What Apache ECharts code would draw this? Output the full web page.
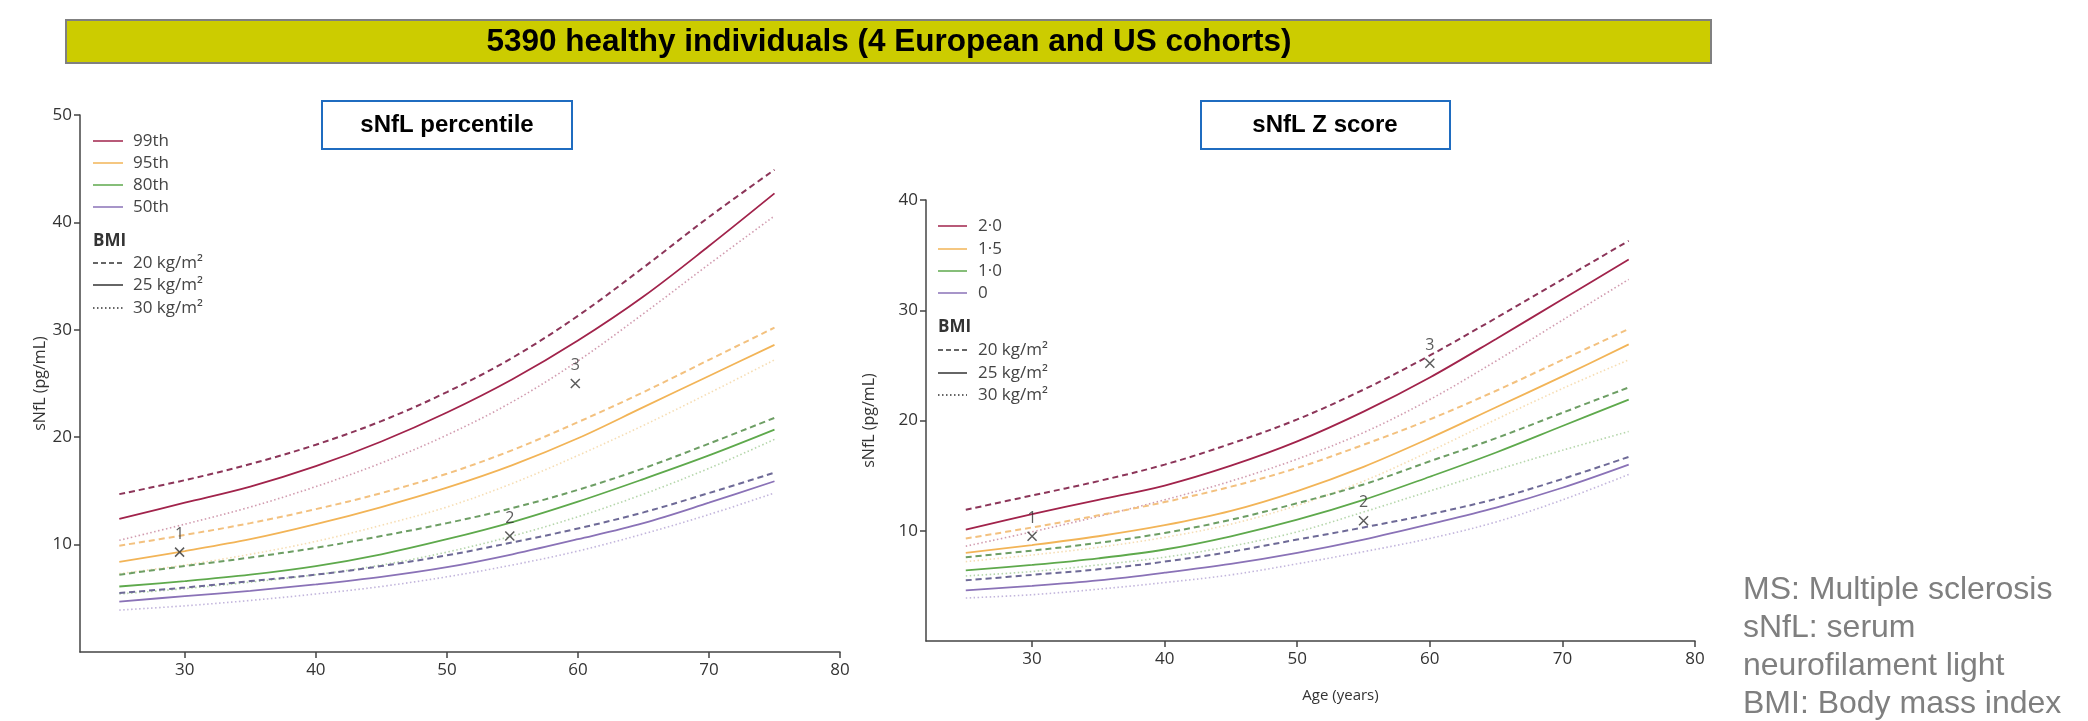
<!DOCTYPE html>
<html>
<head>
<meta charset="utf-8">
<script src="https://cdn.jsdelivr.net/npm/echarts@6/dist/echarts.min.js"></script>
<style>
  html, body { margin: 0; padding: 0; background: #fff; }
  #main { width: 2088px; height: 721px; }
</style>
</head>
<body>
<div id="main"></div>
<script>
// ages at which the reference curves were read
const ages = [25, 30, 35, 40, 45, 50, 55, 60, 65, 70, 75];

// left panel: percentiles, one array per BMI
const p99_bmi20 = [14.7, 16.0, 17.5, 19.3, 21.5, 24.2, 27.4, 31.3, 35.8, 40.5, 44.9];
const p99_bmi25 = [12.4, 13.9, 15.4, 17.3, 19.6, 22.3, 25.4, 29.0, 33.1, 37.8, 42.7];
const p99_bmi30 = [10.4, 11.9, 13.5, 15.4, 17.6, 20.2, 23.3, 27.1, 31.5, 36.1, 40.6];
const p95_bmi20 = [9.9, 10.9, 12.0, 13.3, 14.8, 16.6, 18.8, 21.4, 24.2, 27.2, 30.2];
const p95_bmi25 = [8.4, 9.4, 10.5, 11.9, 13.5, 15.3, 17.4, 19.9, 22.8, 25.7, 28.6];
const p95_bmi30 = [7.3, 8.1, 9.1, 10.3, 11.8, 13.5, 15.7, 18.3, 21.1, 24.1, 27.2];
const p80_bmi20 = [7.2, 8.0, 8.8, 9.7, 10.8, 12.0, 13.4, 15.1, 17.1, 19.4, 21.8];
const p80_bmi25 = [6.1, 6.6, 7.2, 8.0, 9.1, 10.5, 12.1, 14.0, 16.1, 18.3, 20.7];
const p80_bmi30 = [5.4, 5.9, 6.5, 7.2, 8.1, 9.3, 10.8, 12.6, 14.7, 17.1, 19.8];
const p50_bmi20 = [5.5, 6.0, 6.6, 7.2, 8.0, 9.0, 10.2, 11.5, 13.0, 14.8, 16.7];
const p50_bmi25 = [4.7, 5.2, 5.7, 6.3, 7.0, 7.9, 9.1, 10.5, 12.0, 13.9, 15.9];
const p50_bmi30 = [3.9, 4.3, 4.8, 5.4, 6.1, 7.0, 8.1, 9.4, 11.0, 12.8, 14.8];

// right panel: Z scores
const z20_bmi20 = [11.9, 13.2, 14.5, 16.0, 17.9, 20.1, 22.8, 25.9, 29.3, 32.8, 36.3];
const z20_bmi25 = [10.1, 11.5, 12.8, 14.1, 15.9, 18.1, 20.8, 23.9, 27.4, 31.0, 34.6];
const z20_bmi30 = [8.6, 9.9, 11.3, 12.8, 14.5, 16.5, 18.9, 21.9, 25.4, 29.1, 32.8];
const z15_bmi20 = [9.3, 10.3, 11.4, 12.6, 14.0, 15.7, 17.8, 20.1, 22.7, 25.5, 28.3];
const z15_bmi25 = [8.0, 8.7, 9.5, 10.5, 11.8, 13.6, 15.8, 18.4, 21.2, 24.0, 26.9];
const z15_bmi30 = [7.2, 7.8, 8.5, 9.4, 10.6, 12.3, 14.5, 17.2, 20.1, 22.9, 25.5];
const z10_bmi20 = [7.6, 8.2, 8.9, 9.8, 11.0, 12.5, 14.2, 16.3, 18.4, 20.7, 23.0];
const z10_bmi25 = [6.4, 6.9, 7.5, 8.3, 9.5, 11.0, 12.8, 14.9, 17.1, 19.5, 21.9];
const z10_bmi30 = [5.9, 6.3, 6.9, 7.6, 8.6, 9.9, 11.7, 13.6, 15.5, 17.3, 19.0];
const z0_bmi20 = [5.5, 6.0, 6.5, 7.2, 8.1, 9.2, 10.3, 11.5, 12.9, 14.7, 16.7];
const z0_bmi25 = [4.6, 5.0, 5.5, 6.2, 7.0, 8.0, 9.2, 10.6, 12.1, 13.9, 16.0];
const z0_bmi30 = [3.9, 4.2, 4.7, 5.3, 6.0, 7.0, 8.1, 9.3, 10.8, 12.8, 15.1];

// example patients (age, sNfL)
const caseNames = ['1', '2', '3'];
const leftCases = [[29.6, 9.3], [54.8, 10.8], [59.8, 25.0]];
const rightCases = [[30, 9.5], [55, 10.9], [60, 25.2]];

// tick labels
const xTicks = [30, 40, 50, 60, 70, 80];
const leftYTicks = [10, 20, 30, 40, 50];
const rightYTicks = [10, 20, 30, 40];

const pctLabels = ['99th', '95th', '80th', '50th'];
const zLabels = ['2·0', '1·5', '1·0', '0'];
const bmiLabels = ['20 kg/m²', '25 kg/m²', '30 kg/m²'];

// colours: [solid, dashed, dotted]
const palette = [
  ['#a1234b', '#8c3559', '#c98aa1'],
  ['#f2b457', '#f3c17f', '#f5d7a6'],
  ['#5ea94c', '#6d9e64', '#a8cf9c'],
  ['#8a72b7', '#6e6a97', '#b7a8d6']
];

const chart = echarts.init(document.getElementById('main'));

function lineStyle(kind, color) {
  if (kind === 'dashed') return { color: color, width: 2, type: [6, 4] };
  if (kind === 'dotted') return { color: color, width: 1.6, type: [1.5, 2.5], opacity: 0.85 };
  return { color: color, width: 1.8, type: 'solid' };
}

function curve(vals, gi, colorIdx, kind) {
  const c = palette[colorIdx][kind === 'solid' ? 0 : kind === 'dashed' ? 1 : 2];
  return {
    type: 'line',
    xAxisIndex: gi,
    yAxisIndex: gi,
    data: ages.map((a, i) => [a, vals[i]]),
    smooth: 0.35,
    symbol: 'none',
    lineStyle: lineStyle(kind, c),
    silent: true
  };
}

function cases(pts, gi) {
  return {
    type: 'scatter',
    xAxisIndex: gi,
    yAxisIndex: gi,
    symbol: 'path://M0,0L10,10M10,0L0,10',
    symbolSize: 9,
    itemStyle: { color: 'none', borderColor: '#333', borderWidth: 1.5 },
    label: {
      show: true, position: 'top', distance: 3, formatter: '{b}',
      fontSize: 16, color: '#333', fontFamily: 'Open Sans'
    },
    data: pts.map((p, i) => ({ name: caseNames[i], value: p })),
    z: 5
  };
}

function xAxisOf(gi, extra) {
  return Object.assign({
    type: 'value', gridIndex: gi, min: 22, max: 80,
    axisLine: { onZero: false, lineStyle: { color: '#444', width: 1.5 } },
    axisTick: { customValues: xTicks, length: 6, lineStyle: { color: '#444', width: 1.5 } },
    axisLabel: { customValues: xTicks, fontSize: 17, color: '#333', margin: 10, fontFamily: 'Open Sans' },
    splitLine: { show: false }
  }, extra || {});
}

function yAxisOf(gi, max, ticks, gap) {
  return {
    type: 'value', gridIndex: gi, min: 0, max: max,
    name: 'sNfL (pg/mL)', nameLocation: 'middle', nameGap: gap, nameRotate: 90,
    nameTextStyle: { fontSize: 16, color: '#333', fontFamily: 'Open Sans' },
    axisLine: { show: true, lineStyle: { color: '#444', width: 1.5 } },
    axisTick: { customValues: ticks, length: 6, lineStyle: { color: '#444', width: 1.5 } },
    axisLabel: { customValues: ticks, fontSize: 17, color: '#333', margin: 8, fontFamily: 'Open Sans' },
    splitLine: { show: false }
  };
}

function legend(x1, x2, tx, rowsY, bmiY, bmiRowsY, labels) {
  const els = [];
  labels.forEach((t, i) => {
    els.push({ type: 'line', shape: { x1: x1, y1: rowsY[i], x2: x2, y2: rowsY[i] },
      style: { stroke: palette[i][0], lineWidth: 1.5 } });
    els.push({ type: 'text', x: tx, y: rowsY[i],
      style: { text: t, fontSize: 17, fill: '#444', fontFamily: 'Open Sans', verticalAlign: 'middle' } });
  });
  els.push({ type: 'text', x: x1, y: bmiY,
    style: { text: 'BMI', fontSize: 17, fontWeight: 'bold', fill: '#333', fontFamily: 'Open Sans', verticalAlign: 'middle' } });
  const dashes = [[5, 3], null, [1.5, 2.5]];
  bmiLabels.forEach((t, i) => {
    els.push({ type: 'line', shape: { x1: x1, y1: bmiRowsY[i], x2: x2, y2: bmiRowsY[i] },
      style: { stroke: '#333', lineWidth: 1.5, lineDash: dashes[i] } });
    els.push({ type: 'text', x: tx, y: bmiRowsY[i],
      style: { text: t, fontSize: 17, fill: '#444', fontFamily: 'Open Sans', verticalAlign: 'middle' } });
  });
  return els;
}

const leftSets = [
  [p99_bmi20, p99_bmi25, p99_bmi30],
  [p95_bmi20, p95_bmi25, p95_bmi30],
  [p80_bmi20, p80_bmi25, p80_bmi30],
  [p50_bmi20, p50_bmi25, p50_bmi30]
];
const rightSets = [
  [z20_bmi20, z20_bmi25, z20_bmi30],
  [z15_bmi20, z15_bmi25, z15_bmi30],
  [z10_bmi20, z10_bmi25, z10_bmi30],
  [z0_bmi20, z0_bmi25, z0_bmi30]
];

const series = [];
[leftSets, rightSets].forEach((sets, gi) => {
  sets.forEach((trio, ci) => {
    series.push(curve(trio[2], gi, ci, 'dotted'));
    series.push(curve(trio[0], gi, ci, 'dashed'));
    series.push(curve(trio[1], gi, ci, 'solid'));
  });
});
series.push(cases(leftCases, 0));
series.push(cases(rightCases, 1));

const graphic = [
  { type: 'rect', shape: { x: 66, y: 20, width: 1645, height: 43 },
    style: { fill: '#cccc00', stroke: '#808080', lineWidth: 2 } },
  { type: 'text', x: 889, y: 42,
    style: { text: '5390 healthy individuals (4 European and US cohorts)', fontSize: 31.5, fontWeight: 'bold',
      fill: '#000', fontFamily: 'Liberation Sans', align: 'center', verticalAlign: 'middle' } },
  { type: 'rect', shape: { x: 322, y: 101, width: 250, height: 48 },
    style: { fill: '#fff', stroke: '#1f6cc0', lineWidth: 2 } },
  { type: 'text', x: 447, y: 125,
    style: { text: 'sNfL percentile', fontSize: 24, fontWeight: 'bold', fill: '#000',
      fontFamily: 'Liberation Sans', align: 'center', verticalAlign: 'middle' } },
  { type: 'rect', shape: { x: 1201, y: 101, width: 249, height: 48 },
    style: { fill: '#fff', stroke: '#1f6cc0', lineWidth: 2 } },
  { type: 'text', x: 1325, y: 125,
    style: { text: 'sNfL Z score', fontSize: 24, fontWeight: 'bold', fill: '#000',
      fontFamily: 'Liberation Sans', align: 'center', verticalAlign: 'middle' } },
  { type: 'text', x: 1743, y: 571,
    style: { text: 'MS: Multiple sclerosis\nsNfL: serum\nneurofilament light\nBMI: Body mass index',
      fontSize: 32, lineHeight: 38, fill: '#7f7f7f', fontFamily: 'Liberation Sans', verticalAlign: 'top' } }
]
  .concat(legend(93, 123, 133, [141, 163, 185, 207], 241, [263, 285, 308], pctLabels))
  .concat(legend(938, 967, 978, [226, 249, 271, 293], 327, [350, 373, 395], zLabels));

chart.setOption({
  animation: false,
  grid: [
    { left: 80, top: 115, width: 760, height: 537 },
    { left: 926, top: 200, width: 769, height: 441 }
  ],
  xAxis: [
    xAxisOf(0),
    xAxisOf(1, {
      name: 'Age (years)', nameLocation: 'middle', nameGap: 47,
      nameTextStyle: { fontSize: 15, color: '#333', fontFamily: 'Open Sans', padding: [0, 0, 0, 60] }
    })
  ],
  yAxis: [
    yAxisOf(0, 50, leftYTicks, 25),
    yAxisOf(1, 40, rightYTicks, 49)
  ],
  series: series,
  graphic: graphic
});
</script>
</body>
</html>
